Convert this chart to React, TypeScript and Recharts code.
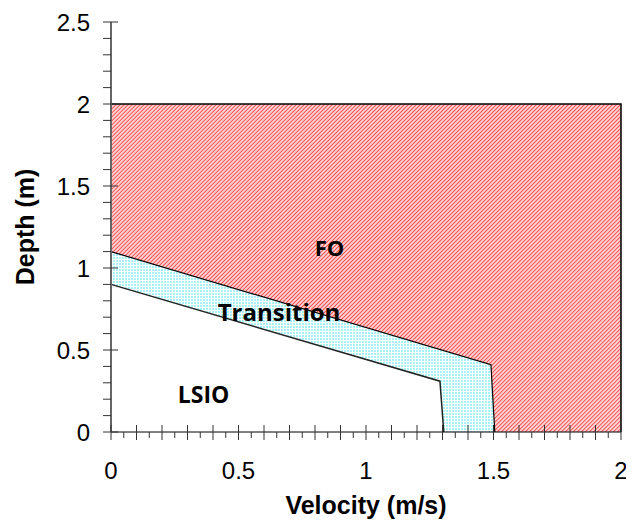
import React from 'react';
import { ComposedChart, Area, Line, XAxis, YAxis, ReferenceDot } from 'recharts';

// Axis ticks (every minor tick position)
const xTicks = [0, 0.05, 0.1, 0.15, 0.2, 0.25, 0.3, 0.35, 0.4, 0.45, 0.5, 0.55, 0.6, 0.65, 0.7, 0.75, 0.8, 0.85, 0.9, 0.95, 1, 1.05, 1.1, 1.15, 1.2, 1.25, 1.3, 1.35, 1.4, 1.45, 1.5, 1.55, 1.6, 1.65, 1.7, 1.75, 1.8, 1.85, 1.9, 1.95, 2];
const yTicks = [0, 0.1, 0.2, 0.3, 0.4, 0.5, 0.6, 0.7, 0.8, 0.9, 1, 1.1, 1.2, 1.3, 1.4, 1.5, 1.6, 1.7, 1.8, 1.9, 2, 2.1, 2.2, 2.3, 2.4, 2.5];
const xTickLabels = ['0', '0.5', '1', '1.5', '2'];
const yTickLabels = ['0', '0.5', '1', '1.5', '2', '2.5'];

// Boundary between Transition and FO
const upperX = [0, 1.49, 1.505];
const upperY = [1.1, 0.41, 0];
// Boundary between LSIO and Transition
const lowerX = [0, 1.29, 1.305];
const lowerY = [0.9, 0.31, 0];
// FO region (range from boundary up to 2 m)
const foX = [0, 1.49, 1.505, 2];
const foLow = [1.1, 0.41, 0, 0];
const foHigh = [2, 2, 2, 2];
// Outline of the FO region (top and right)
const frameX = [0, 2, 2];
const frameY = [2, 2, 0];

const regionNames = ['FO', 'Transition', 'LSIO'];

const upperData = upperX.map((x, i) => ({ x, y: upperY[i] }));
const lowerData = lowerX.map((x, i) => ({ x, y: lowerY[i] }));
const foData = foX.map((x, i) => ({ x, range: [foLow[i], foHigh[i]] }));
const frameData = frameX.map((x, i) => ({ x, y: frameY[i] }));

const AXIS_FONT = '"Liberation Sans", Arial, sans-serif';
const LABEL_FONT = '"Open Sans", "Noto Sans", sans-serif';

const XTick = (props: any) => {
  const { x, y, payload } = props;
  const v = Number(payload.value);
  const k = Math.round(v * 100);
  const major = k % 10 === 0;
  const labelIdx = k % 50 === 0 ? k / 50 : -1;
  return (
    <g>
      <line x1={x} x2={x} y1={major ? y - 7 : y} y2={major ? y + 8 : y + 6} stroke="#333" strokeWidth={1} />
      {labelIdx >= 0 && (
        <text x={x} y={y + 47} textAnchor="middle" fontSize={24} fontFamily={AXIS_FONT} fill="#000">
          {xTickLabels[labelIdx]}
        </text>
      )}
    </g>
  );
};

const YTick = (props: any) => {
  const { x, y, payload } = props;
  const v = Number(payload.value);
  const k = Math.round(v * 10);
  const major = k % 5 === 0;
  const labelIdx = major ? k / 5 : -1;
  return (
    <g>
      <line x1={x - 8} x2={major ? x + 7 : x} y1={y} y2={y} stroke="#333" strokeWidth={1} />
      {labelIdx >= 0 && (
        <text x={x - 21} y={y + 8.6} textAnchor="end" fontSize={24} fontFamily={AXIS_FONT} fill="#000">
          {yTickLabels[labelIdx]}
        </text>
      )}
    </g>
  );
};

const regionStyle = (size: number) => ({
  fontSize: size,
  fontWeight: 700,
  fontFamily: LABEL_FONT,
  fill: '#000',
});

export default function App() {
  return (
    <ComposedChart width={626} height={518} margin={{ top: 14, right: 13, bottom: 0, left: 0 }}>
      <defs>
        <pattern id="foHatch" patternUnits="userSpaceOnUse" width="2.83" height="2.83" patternTransform="rotate(45)">
          <rect x="0" y="0" width="2.83" height="2.83" fill="#ffd4d4" />
          <rect x="0" y="0" width="0.9" height="2.83" fill="#f84848" />
        </pattern>
        <pattern id="trDots" patternUnits="userSpaceOnUse" width="3" height="3">
          <rect x="0" y="0" width="3" height="3" fill="#ffffff" />
          <rect x="0" y="0" width="2" height="2" fill="#a6f2f6" />
        </pattern>
      </defs>
      <XAxis
        type="number"
        dataKey="x"
        domain={[0, 2]}
        ticks={xTicks}
        interval={0}
        tickLine={false}
        tickSize={0}
        tickMargin={0}
        height={94}
        axisLine={{ stroke: '#000', strokeWidth: 1 }}
        tick={XTick}
        label={{
          value: 'Velocity (m/s)',
          position: 'insideBottom',
          offset: 12,
          style: { fontSize: 25, fontWeight: 700, fontFamily: AXIS_FONT, fill: '#000' },
        }}
      />
      <YAxis
        type="number"
        domain={[0, 2.5]}
        ticks={yTicks}
        interval={0}
        tickLine={false}
        tickSize={0}
        tickMargin={0}
        width={103}
        axisLine={{ stroke: '#666', strokeWidth: 2 }}
        tick={YTick}
        label={{
          value: 'Depth (m)',
          angle: -90,
          position: 'insideLeft',
          offset: 17,
          style: { textAnchor: 'middle', fontSize: 25, fontWeight: 700, fontFamily: AXIS_FONT, fill: '#000' },
        }}
      />
      <Area
        data={foData}
        dataKey="range"
        type="linear"
        stroke="none"
        fill="url(#foHatch)"
        fillOpacity={1}
        isAnimationActive={false}
        dot={false}
        activeDot={false}
      />
      <Area
        data={upperData}
        dataKey="y"
        type="linear"
        stroke="none"
        fill="url(#trDots)"
        fillOpacity={1}
        isAnimationActive={false}
        dot={false}
        activeDot={false}
      />
      <Area
        data={lowerData}
        dataKey="y"
        type="linear"
        stroke="none"
        fill="#ffffff"
        fillOpacity={1}
        isAnimationActive={false}
        dot={false}
        activeDot={false}
      />
      <Line data={frameData} dataKey="y" type="linear" stroke="#000" strokeWidth={1.5} dot={false} activeDot={false} isAnimationActive={false} />
      <Line data={upperData} dataKey="y" type="linear" stroke="#000" strokeWidth={1.2} dot={false} activeDot={false} isAnimationActive={false} />
      <Line data={lowerData} dataKey="y" type="linear" stroke="#222" strokeWidth={1.5} dot={false} activeDot={false} isAnimationActive={false} />
      <ReferenceDot x={0.857} y={1.118} r={0} fill="none" stroke="none" label={{ value: regionNames[0], position: 'center', style: regionStyle(22) }} />
      <ReferenceDot x={0.659} y={0.726} r={0} fill="none" stroke="none" label={{ value: regionNames[1], position: 'center', style: regionStyle(24) }} />
      <ReferenceDot x={0.363} y={0.224} r={0} fill="none" stroke="none" label={{ value: regionNames[2], position: 'center', style: regionStyle(23) }} />
    </ComposedChart>
  );
}
